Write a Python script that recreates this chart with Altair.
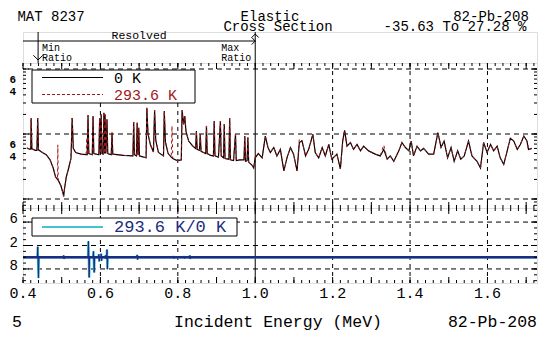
import altair as alt
import pandas as pd

# ---------------- data ----------------
E_XS = [
    0.410, 0.418, 0.420, 0.421, 0.423, 0.432, 0.436, 0.438, 0.440, 0.450,
    0.460, 0.470, 0.478, 0.484, 0.489, 0.490, 0.491, 0.498, 0.503, 0.505,
    0.507, 0.512, 0.518, 0.524, 0.527, 0.530, 0.536, 0.550, 0.563, 0.565,
    0.566, 0.568, 0.570, 0.579, 0.581, 0.583, 0.596, 0.598, 0.600, 0.602,
    0.604, 0.607, 0.609, 0.611, 0.612, 0.614, 0.617, 0.619, 0.628, 0.630,
    0.632, 0.660, 0.684, 0.686, 0.688, 0.693, 0.695, 0.697, 0.699, 0.701,
    0.718, 0.720, 0.723, 0.729, 0.737, 0.740, 0.743, 0.750, 0.763, 0.765,
    0.768, 0.775, 0.783, 0.785, 0.787, 0.798, 0.809, 0.811, 0.815, 0.818,
    0.821, 0.828, 0.838, 0.846, 0.848, 0.850, 0.856, 0.858, 0.860, 0.872,
    0.874, 0.876, 0.885, 0.892, 0.894, 0.896, 0.905, 0.910, 0.912, 0.918,
    0.920, 0.922, 0.932, 0.934, 0.936, 0.944, 0.949, 0.951, 0.960, 0.971,
    0.973, 0.975, 0.979, 0.981, 0.983, 0.992, 0.996, 1.000, 1.008, 1.018,
    1.026, 1.033, 1.039, 1.048, 1.056, 1.065, 1.074, 1.082, 1.091, 1.099,
    1.108, 1.114, 1.121, 1.130, 1.138, 1.149, 1.155, 1.164, 1.173, 1.181,
    1.190, 1.198, 1.211, 1.220, 1.226, 1.231, 1.237, 1.246, 1.254, 1.263,
    1.272, 1.280, 1.293, 1.310, 1.323, 1.332, 1.341, 1.349, 1.358, 1.371,
    1.379, 1.388, 1.397, 1.403, 1.409, 1.418, 1.427, 1.435, 1.448, 1.461,
    1.472, 1.480, 1.488, 1.497, 1.506, 1.514, 1.523, 1.531, 1.540, 1.551,
    1.560, 1.573, 1.582, 1.590, 1.599, 1.608, 1.616, 1.625, 1.633, 1.642,
    1.651, 1.659, 1.668, 1.677, 1.685, 1.694, 1.702, 1.706, 1.715,
]
XS_0K = [
    6.1, 5.8, 5.9, 17.6, 5.9, 5.6, 5.6, 17.6, 5.7, 5.2,
    4.8, 4.0, 3.0, 2.2, 2.0, 2.0, 1.95, 1.6, 1.25, 1.1,
    1.4, 2.2, 3.0, 4.2, 17.6, 6.0, 5.2, 4.9, 4.8, 4.8,
    4.8, 19.4, 5.0, 4.8, 18.9, 5.0, 4.8, 17.4, 5.0, 20.0,
    5.0, 4.9, 21.3, 5.0, 20.0, 5.0, 16.8, 5.0, 4.8, 10.5,
    4.9, 4.7, 4.6, 15.3, 4.8, 4.6, 14.9, 4.7, 12.5, 4.6,
    4.3, 25.4, 10.0, 6.9, 5.3, 23.2, 8.0, 5.2, 4.6, 22.6,
    7.5, 5.0, 4.4, 4.3, 4.2, 3.9, 4.0, 23.2, 14.0, 18.9,
    11.0, 7.8, 6.6, 6.0, 11.1, 5.8, 5.6, 10.0, 5.4, 5.0,
    13.3, 5.0, 4.7, 4.6, 15.8, 4.6, 4.4, 15.8, 4.6, 4.3,
    14.1, 4.2, 4.1, 17.4, 4.0, 3.9, 9.9, 3.9, 4.0, 4.0,
    9.3, 3.8, 3.9, 8.8, 3.7, 3.3, 3.0, 4.3, 5.0, 4.3,
    9.3, 6.2, 5.2, 6.2, 4.6, 5.8, 2.7, 4.3, 6.2, 4.9,
    2.7, 7.4, 7.8, 4.6, 5.8, 9.9, 5.2, 4.3, 6.2, 4.6,
    6.9, 4.1, 4.9, 2.9, 7.8, 11.4, 6.5, 7.4, 5.8, 6.9,
    5.5, 6.5, 5.5, 4.9, 4.6, 5.8, 4.1, 4.6, 3.8, 5.5,
    7.4, 6.2, 5.5, 7.8, 4.6, 6.5, 5.5, 6.0, 4.9, 4.9,
    10.5, 6.2, 7.8, 4.3, 6.2, 3.8, 5.5, 4.1, 4.6, 7.8,
    4.6, 3.8, 3.0, 7.4, 5.2, 6.9, 5.5, 6.5, 4.3, 3.4,
    5.5, 8.6, 7.8, 5.8, 6.9, 9.3, 7.8, 5.8, 6.0,
]
# points where the 293.6 K curve differs visibly from the 0 K curve
XS_293K_DIFF = {0.490: 6.8, 0.565: 8.8, 0.785: 13.3, 1.114: 8.5, 1.332: 6.8}
XS_293K = [XS_293K_DIFF.get(e, s) for e, s in zip(E_XS, XS_0K)]

E_RATIO = [
    0.400, 0.437, 0.438, 0.440, 0.441, 0.504, 0.505, 0.506, 0.507, 0.568,
    0.569, 0.571, 0.572, 0.581, 0.582, 0.584, 0.585, 0.595, 0.596, 0.597,
    0.598, 0.601, 0.602, 0.603, 0.604, 0.612, 0.613, 0.614, 0.615, 0.616,
    0.617, 0.618, 0.619, 0.694, 0.695, 0.696, 0.697, 0.788, 0.789, 0.790,
    0.791, 0.815, 0.816, 0.817, 0.818, 0.830, 0.831, 0.832, 0.833, 1.728,
]
RATIO = [
    1.0, 1.0, 1.18, 0.644, 1.0, 1.0, 1.03, 0.97, 1.0, 1.0,
    1.273, 0.655, 1.0, 1.0, 1.10, 0.74, 1.0, 1.0, 1.05, 0.93,
    1.0, 1.0, 1.06, 0.94, 1.0, 1.0, 1.03, 0.97, 1.0, 1.0,
    1.13, 0.795, 1.0, 1.0, 1.04, 0.96, 1.0, 1.0, 1.02, 0.98,
    1.0, 1.0, 1.02, 0.98, 1.0, 1.0, 1.03, 0.97, 1.0, 1.0,
]

X_DOMAIN = [0.4, 1.728]
X_LABELS = [0.4, 0.6, 0.8, 1.0, 1.2, 1.4, 1.6]
X_LABEL_TEXT = ["0.4", "0.6", "0.8", "1.0", "1.2", "1.4", "1.6"]
X_GRID = [0.6, 0.8, 1.2, 1.4, 1.6]
X_MINOR = [round(0.40 + 0.02 * i, 2) for i in range(67)]
X_MAJOR = [round(0.40 + 0.1 * i, 1) for i in range(14)]

UP_DOMAIN = [0.727, 123.7]
UP_GRID = [1, 10, 100]
UP_LABELS = [4, 6, 40, 60]
UP_LABEL_TEXT = ["4", "6", "4", "6"]
UP_MINOR = [0.8, 0.9, 1, 2, 3, 4, 5, 6, 7, 8, 9, 10, 20, 30, 40, 50, 60, 70, 80, 90, 100]

LO_DOMAIN = [0.56, 1.84]
LO_GRID = [0.8, 1.2, 1.6]
LO_LABEL_TEXT = ["8", "2", "6"]
LO_MINOR = [0.6, 0.7, 0.8, 0.9, 1.0, 1.1, 1.2, 1.3, 1.4, 1.5, 1.6, 1.7, 1.8]

RESOLVED = [0.4, 1.0]
MIN_RATIO_E = 0.439
MAX_RATIO_E = 1.0

# ---------------- layout / style ----------------
FONT = "Liberation Mono"
W = 514
H_HEAD, H_UP, H_LO = 31, 145, 75
RED = "#a01818"
NAVY = "#1c2c80"
CYAN = "#45c3d5"
TF = 14     # header lines font size
BF = 16.5   # footer font size
SF = 10     # small header-box labels

xs = alt.Scale(domain=X_DOMAIN, nice=False, zero=False)
ys_up = alt.Scale(type="log", domain=UP_DOMAIN, nice=False)
ys_lo = alt.Scale(domain=LO_DOMAIN, nice=False, zero=False)

ONE = pd.DataFrame({"_": [0]})


def vals(v, t=None):
    d = {"v": v}
    if t is not None:
        d["t"] = t
    return pd.DataFrame(d)


def X(field="v"):
    return alt.X(f"{field}:Q", scale=xs, axis=None)


def text(s, x, y, size=17, align="left", color="black", baseline="middle"):
    return alt.Chart(ONE).mark_text(
        text=s, font=FONT, fontSize=size, align=align, baseline=baseline,
        color=color,
    ).encode(x=alt.value(x), y=alt.value(y))


def xticks(v, y0, y1):
    return alt.Chart(vals(v)).mark_rule(color="black", strokeWidth=1).encode(
        x=X(), y=alt.value(y0), y2=alt.value(y1))


def yticks(v, scale, x0, x1):
    return alt.Chart(vals(v)).mark_rule(color="black", strokeWidth=1).encode(
        y=alt.Y("v:Q", scale=scale, axis=None), x=alt.value(x0), x2=alt.value(x1))


def hgrid(v, scale):
    return alt.Chart(vals(v)).mark_rule(color="black", strokeDash=[5, 4]).encode(
        y=alt.Y("v:Q", scale=scale, axis=None))


def vgrid():
    return alt.Chart(vals(X_GRID)).mark_rule(color="black", strokeDash=[4, 4]).encode(x=X())


def ylabels(v, t, scale, xpos, size, weight="normal"):
    return alt.Chart(vals(v, t)).mark_text(
        font=FONT, fontSize=size, fontWeight=weight, align="right",
        baseline="middle", dy=-3, color="black",
    ).encode(y=alt.Y("v:Q", scale=scale, axis=None), x=alt.value(xpos), text="t:N")


def small(df, s, y, dx):
    return alt.Chart(df).mark_text(text=s, font=FONT, fontSize=SF, align="left",
                                   baseline="middle", dx=dx).encode(x=X(), y=alt.value(y))


# ---------------- header box ----------------
res_df = pd.DataFrame({"a": [RESOLVED[0]], "b": [RESOLVED[1]],
                       "m": [(RESOLVED[0] + RESOLVED[1]) / 2]})
mn_df = pd.DataFrame({"v": [MIN_RATIO_E]})
mx_df = pd.DataFrame({"v": [MAX_RATIO_E]})

head = alt.layer(
    alt.Chart(res_df).mark_rule(color="black").encode(
        x=X("a"), x2="b", y=alt.value(9)),
    alt.Chart(res_df).mark_text(text="Resolved", font=FONT, fontSize=11.5,
                                baseline="middle").encode(x=X("m"), y=alt.value(4)),
    alt.Chart(mn_df).mark_rule(color="black").encode(
        x=X(), y=alt.value(0), y2=alt.value(H_HEAD)),
    alt.Chart(mn_df).mark_point(shape="M-1,-1L0,0L1,-1", filled=False, size=90,
                                color="black", strokeWidth=1, opacity=1).encode(
        x=X(), y=alt.value(28)),
    small(mn_df, "Min", 15.5, 4),
    small(mn_df, "Ratio", 25.5, 4),
    alt.Chart(mx_df).mark_rule(color="black").encode(
        x=X(), y=alt.value(0), y2=alt.value(H_HEAD)),
    small(mx_df, "Max", 15.5, -34),
    small(mx_df, "Ratio", 25.5, -34),
    alt.Chart(mx_df).mark_point(shape="M-1,-1L0,0L-1,1", filled=False, size=50,
                                color="black", strokeWidth=1, opacity=1).encode(
        x=X(), y=alt.value(9)),
    alt.Chart(mx_df).mark_point(shape="M-1,1L0,0L1,1", filled=False, size=50,
                                color="black", strokeWidth=1, opacity=1).encode(
        x=X(), y=alt.value(2)),
    text("MAT 8237", 28, -11, size=TF, align="center", baseline="alphabetic"),
    text("Elastic", 247, -11, size=TF, align="center", baseline="alphabetic"),
    text("82-Pb-208", 468, -11, size=TF, align="center", baseline="alphabetic"),
    text("Cross Section", 255, -1, size=TF, align="center", baseline="alphabetic"),
    text("-35.63 To 27.28 %", 432, -1, size=TF, align="center", baseline="alphabetic"),
).properties(width=W, height=H_HEAD)

# ---------------- upper panel: cross sections ----------------
up_df = pd.DataFrame({"E": E_XS, "xs0": XS_0K, "xs293": XS_293K})

upper = alt.layer(
    hgrid(UP_GRID, ys_up),
    vgrid(),
    alt.Chart(vals([1.0])).mark_rule(color="black").encode(x=X()),
    alt.Chart(up_df).mark_line(color="black", strokeWidth=1.2, clip=True).encode(
        x=X("E"), y=alt.Y("xs0:Q", scale=ys_up, axis=None)),
    alt.Chart(up_df).mark_line(color=RED, strokeWidth=1, strokeDash=[3, 3], clip=True).encode(
        x=X("E"), y=alt.Y("xs293:Q", scale=ys_up, axis=None)),
    xticks(X_MINOR, 0, 3), xticks(X_MAJOR, 0, 6),
    xticks(X_MINOR, H_UP, H_UP - 3), xticks(X_MAJOR, H_UP, H_UP - 6),
    yticks(UP_MINOR, ys_up, 0, 3), yticks(UP_GRID, ys_up, 0, 6),
    yticks(UP_MINOR, ys_up, W, W - 3), yticks(UP_GRID, ys_up, W, W - 6),
    ylabels(UP_LABELS, UP_LABEL_TEXT, ys_up, -7, 11, "bold"),
    alt.Chart(ONE).mark_rect(fill="white", stroke="black", strokeWidth=1).encode(
        x=alt.value(9), x2=alt.value(172), y=alt.value(7), y2=alt.value(40)),
    alt.Chart(ONE).mark_rule(color="black", strokeWidth=1).encode(
        x=alt.value(19), x2=alt.value(80), y=alt.value(14.5)),
    alt.Chart(ONE).mark_rule(color=RED, strokeWidth=1, strokeDash=[3, 2]).encode(
        x=alt.value(19), x2=alt.value(80), y=alt.value(31.5)),
    text("0 K", 91, 14.5, size=15),
    text("293.6 K", 91, 31.5, size=15, color=RED),
).properties(width=W, height=H_UP)

# ---------------- lower panel: ratio ----------------
lo_df = pd.DataFrame({"E": E_RATIO, "r": RATIO})

lower = alt.layer(
    hgrid(LO_GRID, ys_lo),
    vgrid(),
    alt.Chart(vals([1.0])).mark_rule(color="black").encode(x=X()),
    alt.Chart(lo_df).mark_line(color=CYAN, strokeWidth=2.4, clip=True).encode(
        x=X("E"), y=alt.Y("r:Q", scale=ys_lo, axis=None)),
    alt.Chart(lo_df).mark_line(color=NAVY, strokeWidth=1, clip=True).encode(
        x=X("E"), y=alt.Y("r:Q", scale=ys_lo, axis=None)),
    alt.Chart(vals([1.0])).mark_rule(color=NAVY, strokeWidth=2.5).encode(
        y=alt.Y("v:Q", scale=ys_lo, axis=None)),
    xticks(X_MINOR, 0, 3), xticks(X_MAJOR, 0, 6),
    xticks(X_MINOR, H_LO, H_LO - 3), xticks(X_MAJOR, H_LO, H_LO - 6),
    yticks(LO_MINOR, ys_lo, 0, 3), yticks(LO_GRID, ys_lo, 0, 6),
    yticks(LO_MINOR, ys_lo, W, W - 3), yticks(LO_GRID, ys_lo, W, W - 6),
    ylabels(LO_GRID, LO_LABEL_TEXT, ys_lo, -5, 14),
    alt.Chart(vals(X_LABELS, X_LABEL_TEXT)).mark_text(
        font=FONT, fontSize=15, align="center", baseline="middle", color="black",
    ).encode(x=X(), y=alt.value(H_LO + 10), text="t:N"),
    alt.Chart(ONE).mark_rect(fill="white", stroke="black", strokeWidth=1).encode(
        x=alt.value(9), x2=alt.value(214), y=alt.value(10), y2=alt.value(28)),
    alt.Chart(ONE).mark_rule(color=CYAN, strokeWidth=2).encode(
        x=alt.value(19), x2=alt.value(80), y=alt.value(19)),
    text("293.6 K/0 K", 91, 19, color=NAVY),
    text("5", -11, H_LO + 39, size=BF),
    text("Incident Energy (MeV)", 255, H_LO + 39, size=BF, align="center"),
    text("82-Pb-208", W, H_LO + 39, size=BF, align="right"),
).properties(width=W, height=H_LO)

chart = alt.vconcat(head, upper, lower, spacing=0, bounds="flush").properties(
    padding={"top": 1, "left": 0, "right": 0, "bottom": 0}, background="white"
).configure_view(stroke="black", strokeWidth=1).configure(font=FONT)

chart.save("out.html", embed_options={"renderer": "svg", "actions": False})
